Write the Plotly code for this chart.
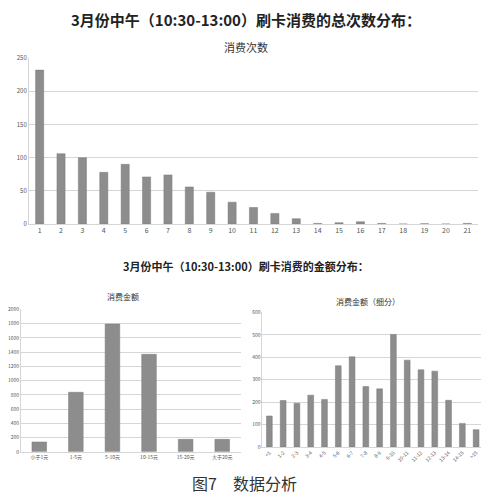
import plotly.graph_objects as go

# 消费次数分布
count_labels = [str(i) for i in range(1, 22)]
count_values = [232, 106, 100, 78, 90, 71, 74, 56, 48, 33, 25, 16, 8, 1, 2, 3.5, 1, 0, 0.5, 0, 1]

# 消费金额分布
amount_labels = ["小于1元", "1-5元", "5-10元", "10-15元", "15-20元", "大于20元"]
amount_values = [138, 837, 1795, 1370, 175, 175]

# 消费金额（细分）
detail_labels = ["<1", "1-2", "2-3", "3-4", "4-5", "5-6", "6-7", "7-8",
                 "8-9", "9-10", "10-11", "11-12", "12-13", "13-14", "14-15", ">15"]
detail_values = [138, 207, 195, 231, 212, 362, 402, 269, 259, 502, 387, 344, 338, 208, 105, 77]

# 页面自带 8px 边距，按此偏移
OFF = 8
W, H = 489 - OFF, 500 - OFF
FONT = "Noto Sans CJK SC"
BAR = "#8d8d8d"
GRID = "#d6d6d6"
TICK = "#555555"

def px(x):
    return (x - OFF) / W

def py(y):
    return 1 - (y - OFF) / H

fig = go.Figure()
fig.add_trace(go.Bar(x=count_labels, y=count_values, marker=dict(color=BAR, line=dict(color="#7a7a7a", width=0.5)),
                     width=0.38, xaxis="x", yaxis="y"))
fig.add_trace(go.Bar(x=amount_labels, y=amount_values, marker=dict(color=BAR, line=dict(color="#7a7a7a", width=0.5)),
                     width=0.4, xaxis="x2", yaxis="y2"))
fig.add_trace(go.Bar(x=detail_labels, y=detail_values, marker=dict(color=BAR, line=dict(color="#7a7a7a", width=0.5)),
                     width=0.42, xaxis="x3", yaxis="y3"))

def xax(dom, anchor, size, angle=0):
    return dict(domain=dom, anchor=anchor, type="category", showgrid=False, showline=True,
                linecolor=GRID, linewidth=1, ticks="", tickangle=angle,
                tickfont=dict(size=size, color=TICK, family=FONT), fixedrange=True)

def yax(dom, anchor, rng, dtick, size):
    return dict(domain=dom, anchor=anchor, range=rng, dtick=dtick, showgrid=True, gridcolor=GRID,
                gridwidth=1, showline=True, linecolor=GRID, zeroline=False, ticks="",
                tickfont=dict(size=size, color=TICK, family=FONT), fixedrange=True)

fig.update_layout(
    width=W, height=H,
    margin=dict(l=0, r=0, t=0, b=0),
    paper_bgcolor="white", plot_bgcolor="white",
    showlegend=False,
    bargap=0.6,
    font=dict(family=FONT),
    xaxis=xax([px(28), px(478)], "y", 7),
    yaxis=yax([py(223), py(54)], "x", [0, 250], 50, 6),
    xaxis2=xax([px(20), px(240)], "y2", 5),
    yaxis2=yax([py(455), py(310)], "x2", [0, 2000], 200, 5),
    xaxis3=xax([px(262), px(483)], "y3", 5, -45),
    yaxis3=yax([py(450), py(313)], "x3", [0, 600], 100, 5),
)

texts = [
    ("3月份中午（10:30-13:00）刷卡消费的总次数分布：", 245, 15, 15, "#222222", True),
    ("消费次数", 245, 43, 11, "#333333", False),
    ("3月份中午（10:30-13:00）刷卡消费的金额分布：", 245, 266, 11, "#222222", True),
    ("消费金额", 122, 297, 8, "#333333", False),
    ("消费金额（细分）", 368, 302, 8, "#333333", False),
    ("图7　数据分析", 244, 487, 16, "#333333", False),
]
for t, x, y, s, c, b in texts:
    fig.add_annotation(text=f"<b>{t}</b>" if b else t, x=px(x), y=py(y), xref="paper", yref="paper",
                       xanchor="center", yanchor="middle", showarrow=False,
                       font=dict(size=s, color=c, family=FONT))

fig.write_html("out.html")
